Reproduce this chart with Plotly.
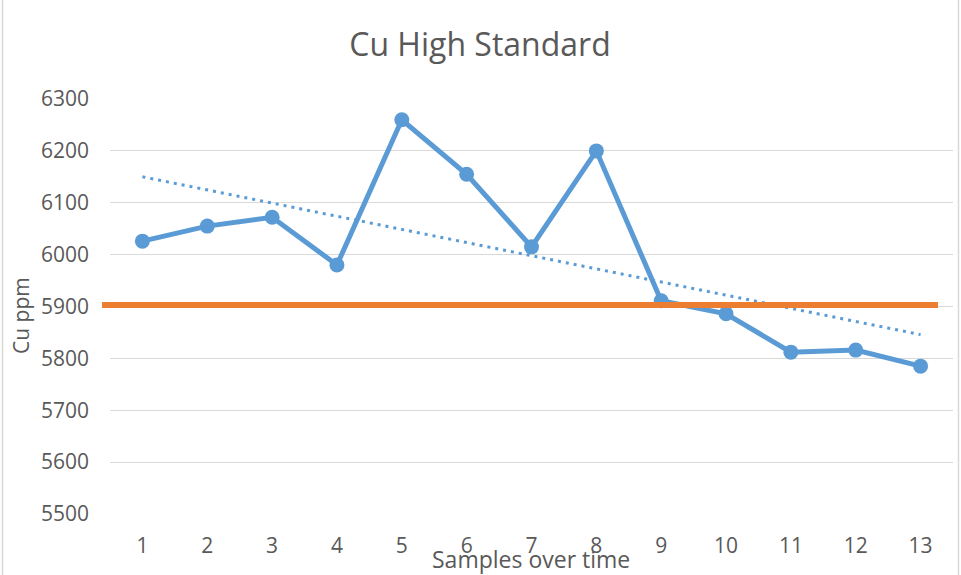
import numpy as np
import plotly.graph_objects as go

# Cu high-standard readings, one per sample run
samples = list(range(1, 14))
cu_ppm = [6026, 6055, 6072, 5980, 6260, 6155, 6015, 6200, 5911, 5886, 5812, 5816, 5785]
target_ppm = 5903
y_ticks = [5500, 5600, 5700, 5800, 5900, 6000, 6100, 6200, 6300]

BLUE = "#5B9BD5"
ORANGE = "#ED7D31"
GREY_TXT = "#595959"
GRID = "#D9D9D9"
FONT = "Open Sans"

# linear trend through the readings
slope, intercept = np.polyfit(samples, cu_ppm, 1)
trend = [slope * s + intercept for s in samples]

W, H = 961, 575
ML, MR, MT, MB = 110, 8, 99, 61
pw, ph = W - ML - MR, H - MT - MB

def px_x(p):
    return (p - ML) / pw

def px_y(p):
    return 1 - (p - MT) / ph

fig = go.Figure()

fig.add_trace(go.Scatter(
    x=samples, y=cu_ppm, mode="lines+markers",
    line=dict(color=BLUE, width=5),
    marker=dict(color=BLUE, size=15),
    showlegend=False, cliponaxis=False,
))
fig.add_trace(go.Scatter(
    x=samples, y=trend, mode="lines",
    line=dict(color=BLUE, width=3, dash="3px,5px"),
    showlegend=False,
))

shapes = [
    # target level
    dict(type="line", xref="paper", yref="y",
         x0=px_x(102), x1=px_x(938), y0=target_ppm, y1=target_ppm,
         line=dict(color=ORANGE, width=6), layer="above"),
    # chart border
    dict(type="rect", xref="paper", yref="paper",
         x0=px_x(2.5), x1=px_x(958.5), y0=px_y(H + 5), y1=px_y(-5),
         line=dict(color=GRID, width=1.5), layer="below"),
]

annotations = [
    dict(text="Samples over time", xref="paper", yref="paper",
         x=px_x(531), y=px_y(559), showarrow=False,
         font=dict(family=FONT, size=23, color=GREY_TXT),
         xanchor="center", yanchor="middle"),
    dict(text="Cu ppm", xref="paper", yref="paper",
         x=px_x(21), y=px_y(316), showarrow=False, textangle=-90,
         font=dict(family=FONT, size=21, color=GREY_TXT),
         xanchor="center", yanchor="middle"),
]

fig.update_layout(
    width=W, height=H,
    margin=dict(l=ML, r=MR, t=MT, b=MB),
    paper_bgcolor="white", plot_bgcolor="white",
    title=dict(text="Cu High Standard", x=480 / W, xref="container", y=1 - 45 / H,
               xanchor="center", yanchor="middle",
               font=dict(family=FONT, size=32, color=GREY_TXT)),
    font=dict(family=FONT, color=GREY_TXT),
    shapes=shapes,
    annotations=annotations,
    xaxis=dict(range=[0.5, 13.5], tickvals=samples, ticktext=[str(s) for s in samples],
               showgrid=False, zeroline=False, showline=False,
               ticks="", ticklabelstandoff=17,
               tickfont=dict(family=FONT, size=21, color=GREY_TXT)),
    yaxis=dict(range=[5500, 6300], tickvals=y_ticks,
               showgrid=True, gridcolor=GRID, gridwidth=1.3,
               zeroline=False, showline=False, ticks="", ticklabelstandoff=20,
               tickfont=dict(family=FONT, size=21, color=GREY_TXT)),
)

fig.write_html("out.html")
